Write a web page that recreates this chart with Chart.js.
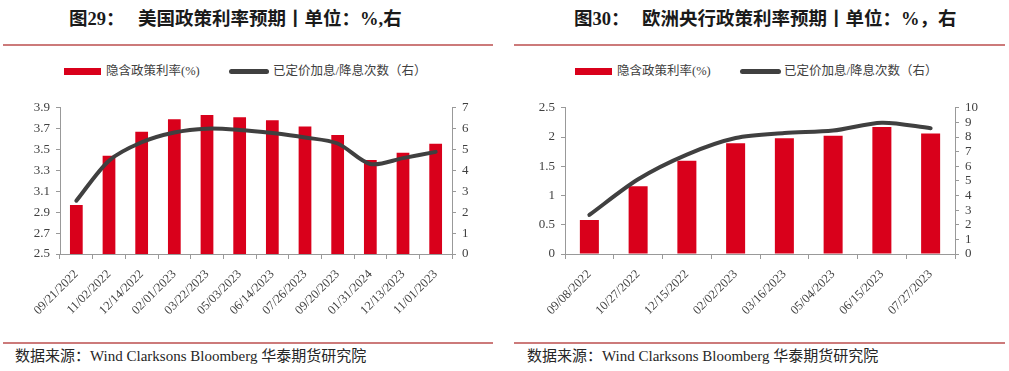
<!DOCTYPE html>
<html>
<head>
<meta charset="utf-8">
<script src="https://cdn.jsdelivr.net/npm/chart.js@4"></script>
<style>
  body { margin: 0; width: 1009px; height: 371px; background: #fff; position: relative; overflow: hidden;
         font-family: "Liberation Serif", "Noto Sans CJK SC", serif; color: #262626; }
  .abs { position: absolute; white-space: nowrap; }
  .title { font-weight: bold; font-size: 18.5px; line-height: 19px; top: 10px; color: #1a1a1a; }
  .rule { position: absolute; height: 2px; background: #cc7a7a; }
  .leg-text { font-size: 12.5px; line-height: 14px; top: 64px; color: #404040; }
  .leg-bar { position: absolute; top: 68px; height: 7px; background: #D9001B; }
  .leg-line { position: absolute; top: 69px; height: 5px; border-radius: 3px; background: #404040; }
  .foot { font-size: 15px; line-height: 16px; top: 348px; color: #262626; }
  canvas { position: absolute; }
</style>
</head>
<body>
<!-- left panel -->
<div class="abs title" style="left:69px">图29：</div>
<div class="abs title" style="left:138px">美国政策利率预期丨单位：%,右</div>
<div class="rule" style="left:3px;width:490px;top:44px"></div>
<div class="leg-bar" style="left:64px;width:37px"></div>
<div class="abs leg-text" style="left:106px">隐含政策利率(%)</div>
<div class="leg-line" style="left:229px;width:40px"></div>
<div class="abs leg-text" style="left:273px">已定价加息/降息次数（右）</div>
<canvas id="usChart" width="505" height="246" style="left:0;top:94px"></canvas>
<div class="rule" style="left:3px;width:490px;top:342px"></div>
<div class="abs foot" style="left:15px">数据来源：Wind Clarksons Bloomberg 华泰期货研究院</div>

<!-- right panel -->
<div class="abs title" style="left:574px">图30：</div>
<div class="abs title" style="left:642px">欧洲央行政策利率预期丨单位：%，右</div>
<div class="rule" style="left:514px;width:491px;top:44px"></div>
<div class="leg-bar" style="left:575px;width:37px"></div>
<div class="abs leg-text" style="left:617px">隐含政策利率(%)</div>
<div class="leg-line" style="left:740px;width:41px"></div>
<div class="abs leg-text" style="left:784px">已定价加息/降息次数（右）</div>
<canvas id="euChart" width="504" height="246" style="left:505px;top:94px"></canvas>
<div class="rule" style="left:514px;width:491px;top:342px"></div>
<div class="abs foot" style="left:527px">数据来源：Wind Clarksons Bloomberg 华泰期货研究院</div>

<script>
// ---- data ----
const usDates = ['09/21/2022', '11/02/2022', '12/14/2022', '02/01/2023', '03/22/2023', '05/03/2023',
                 '06/14/2023', '07/26/2023', '09/20/2023', '01/31/2024', '12/13/2023', '11/01/2023'];
const usImplied = [2.97, 3.44, 3.67, 3.79, 3.83, 3.81, 3.78, 3.72, 3.64, 3.40, 3.47, 3.555];
const usHikes = [2.55, 4.47, 5.35, 5.82, 6.0, 5.94, 5.79, 5.58, 5.29, 4.31, 4.59, 4.89];

const euDates = ['09/08/2022', '10/27/2022', '12/15/2022', '02/02/2023', '03/16/2023', '05/04/2023',
                 '06/15/2023', '07/27/2023'];
const euImplied = [0.58, 1.16, 1.595, 1.895, 1.98, 2.02, 2.17, 2.06];
const euHikes = [2.67, 5.11, 6.8, 7.93, 8.27, 8.44, 8.98, 8.6];

const usLeftAxis = { min: 2.5, max: 3.9, step: 0.2 };
const usRightAxis = { min: 0, max: 7, step: 1 };
const euLeftAxis = { min: 0, max: 2.5, step: 0.5 };
const euRightAxis = { min: 0, max: 10, step: 1 };

const RED = '#D9001B';
const DARK = '#404040';
const AXIS = '#999999';
const tickFont = { family: '"Liberation Serif", serif', size: 13 };
const fmtTick = (v) => String(Number(v.toFixed(2)));

function yScale(ax, position, width) {
  return {
    type: 'linear', position,
    min: ax.min, max: ax.max,
    grid: { drawOnChartArea: false, drawTicks: true, tickLength: 4, color: AXIS },
    border: { color: AXIS, width: 1 },
    ticks: { stepSize: ax.step, color: DARK, font: tickFont, padding: 6, autoSkip: false, callback: fmtTick },
    afterFit: (s) => { s.width = width; },
  };
}

function makeChart(id, labels, bars, line, left, right, leftW, rightW) {
  const ctx = document.getElementById(id).getContext('2d');
  return new Chart(ctx, {
    data: {
      labels,
      datasets: [
        { type: 'line', data: line, yAxisID: 'y1', order: 1, borderColor: DARK, borderWidth: 4,
          pointRadius: 0, tension: 0.3, borderCapStyle: 'round', borderJoinStyle: 'round' },
        { type: 'bar', data: bars, yAxisID: 'y', order: 2, backgroundColor: RED,
          barPercentage: 0.39, categoryPercentage: 1 },
      ],
    },
    options: {
      responsive: false, animation: false,
      layout: { padding: { top: 10, left: 0, right: 0, bottom: 0 } },
      plugins: { legend: { display: false }, tooltip: { enabled: false }, title: { display: false } },
      scales: {
        x: {
          grid: { offset: true, drawOnChartArea: false, drawTicks: true, tickLength: 5, color: AXIS },
          border: { color: AXIS, width: 1 },
          ticks: { color: DARK, font: { family: '"Liberation Serif", serif', size: 12.5 },
                   minRotation: 45, maxRotation: 45, autoSkip: false, padding: 8 },
          afterFit: (s) => { s.height = 86; },
        },
        y: yScale(left, 'left', leftW),
        y1: yScale(right, 'right', rightW),
      },
    },
  });
}

makeChart('usChart', usDates, usImplied, usHikes, usLeftAxis, usRightAxis, 60, 53);
makeChart('euChart', euDates, euImplied, euHikes, euLeftAxis, euRightAxis, 60, 54);
</script>
</body>
</html>
